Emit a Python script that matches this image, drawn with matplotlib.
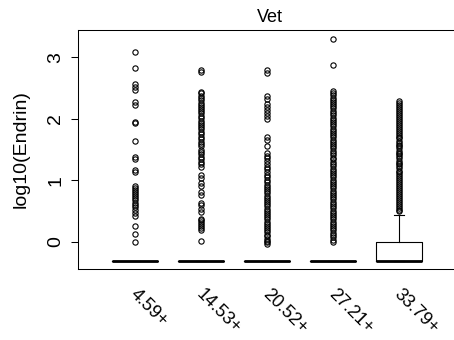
import matplotlib
matplotlib.use('Agg')
import matplotlib.pyplot as plt
import matplotlib.transforms as mtransforms

plt.rcParams['font.family'] = ['Liberation Sans', 'DejaVu Sans']

# Endrin, log10 scale, by Vet group; most samples sit at the detection limit
groups = ["4.59+", "14.53+", "20.52+", "27.21+", "33.79+"]
detect_limit = -0.301
n_at_limit = [120, 200, 240, 300, 260]

g1_high = [3.08, 2.83, 2.56, 2.51, 2.47, 2.27, 2.23, 1.95, 1.93, 1.64, 1.38, 1.35,
           1.17, 1.14, 0.91, 0.88, 0.85, 0.81, 0.78, 0.75, 0.71, 0.68, 0.64, 0.60,
           0.56, 0.52, 0.47, 0.42, 0.26, 0.13, 0.0]
g2_high = [2.79, 2.76, 2.44, 2.41, 2.37, 2.34, 2.30, 2.26, 2.23, 2.19, 2.16, 2.12,
           2.09, 2.04, 2.01, 1.97, 1.93, 1.90, 1.86, 1.83, 1.79, 1.75, 1.71, 1.67,
           1.63, 1.59, 1.55, 1.50, 1.46, 1.43, 1.38, 1.35, 1.30, 1.26, 1.22, 1.08,
           1.04, 0.95, 0.91, 0.81, 0.76, 0.63, 0.60, 0.54, 0.49, 0.38, 0.36, 0.32,
           0.29, 0.26, 0.22, 0.19, 0.01]
g3_high = [2.79, 2.74, 2.37, 2.32, 2.24, 2.19, 2.14, 2.09, 2.04, 1.99, 1.70, 1.65,
           1.55, 1.45, 1.40, 1.36, 1.31, 1.27, 1.22, 1.18, 1.13, 1.09, 1.05, 1.01,
           0.97, 0.93, 0.90, 0.86, 0.83, 0.79, 0.75, 0.72, 0.68, 0.65, 0.61, 0.58,
           0.54, 0.51, 0.47, 0.44, 0.40, 0.37, 0.33, 0.30, 0.26, 0.23, 0.19, 0.16,
           0.12, 0.09, 0.05, 0.02, 0.0, -0.03]
g4_high = [3.30, 2.87, 2.45, 2.41, 2.38, 2.34, 2.31, 2.27, 2.24, 2.20, 2.17, 2.13,
           2.09, 2.06, 2.02, 1.98, 1.95, 1.91, 1.88, 1.84, 1.80, 1.77, 1.73, 1.70,
           1.66, 1.62, 1.59, 1.55, 1.52, 1.48, 1.45, 1.41, 1.37, 1.34, 1.30, 1.27,
           1.23, 1.19, 1.16, 1.12, 1.09, 1.05, 1.01, 0.98, 0.94, 0.91, 0.87, 0.83,
           0.80, 0.76, 0.73, 0.69, 0.65, 0.62, 0.58, 0.55, 0.51, 0.47, 0.44, 0.40,
           0.37, 0.33, 0.29, 0.26, 0.22, 0.19, 0.15, 0.11, 0.08, 0.04, 0.0]
g5_high = [2.28, 2.25, 2.22, 2.19, 2.16, 2.12, 2.09, 2.06, 2.03, 2.00, 1.96, 1.93,
           1.90, 1.87, 1.84, 1.80, 1.77, 1.74, 1.71, 1.68, 1.64, 1.61, 1.58, 1.55,
           1.52, 1.48, 1.45, 1.42, 1.39, 1.36, 1.32, 1.29, 1.26, 1.23, 1.20, 1.16,
           1.13, 1.10, 1.07, 1.04, 1.00, 0.97, 0.94, 0.91, 0.88, 0.84, 0.81, 0.78,
           0.75, 0.72, 0.68, 0.65, 0.62, 0.58, 0.55, 0.52, 0.50,
           0.44, 0.40, 0.35, 0.30, 0.26, 0.20, 0.15, 0.10, 0.05]
g5_n_at_one = 110  # log10(1) = 0

highs = [g1_high, g2_high, g3_high, g4_high, g5_high]
data = []
for i, h in enumerate(highs):
    vals = [detect_limit] * n_at_limit[i] + list(h)
    if i == 4:
        vals += [0.0] * g5_n_at_one
    data.append(vals)

positions = [1, 2, 3, 4, 5]

fig = plt.figure(figsize=(4.54, 3.40), dpi=100)
ax = fig.add_axes([78/454, 71/340, 384/454, 239/340])

ax.boxplot(data, positions=positions, widths=0.71, whis=1.5,
           capwidths=0.15,
           flierprops=dict(marker='o', markerfacecolor='none', markeredgecolor='black',
                           markersize=3.8, markeredgewidth=0.8),
           medianprops=dict(color='black', linewidth=2.0, solid_capstyle='butt'),
           boxprops=dict(color='black', linewidth=0.8),
           whiskerprops=dict(color='black', linewidth=0.8, linestyle='-'),
           capprops=dict(color='black', linewidth=0.8))

ax.set_xlim(1 - 57/66, 1 + 327/66)
ax.set_ylim(-0.438, 3.44)
ax.set_yticks([0, 1, 2, 3])
ax.set_yticklabels(["0", "1", "2", "3"], rotation=90, va='center')
ax.set_xticks(positions)
ax.set_xticklabels(groups, rotation=-45, ha='left', va='top', rotation_mode='anchor')
ax.tick_params(axis='x', length=0, pad=12, labelsize=13)
ax.tick_params(axis='y', length=5, width=0.75, pad=5, labelsize=14)
shift = mtransforms.ScaledTranslation(4/100, 0, fig.dpi_scale_trans)
for lbl in ax.get_xticklabels():
    lbl.set_transform(lbl.get_transform() + shift)
for s in ax.spines.values():
    s.set_linewidth(0.75)

ax.set_title("Vet", fontsize=13, pad=6)
ax.set_ylabel("log10(Endrin)", fontsize=14)
ax.yaxis.set_label_coords(-0.125, 0.5)

fig.savefig("out.png", dpi=100)
